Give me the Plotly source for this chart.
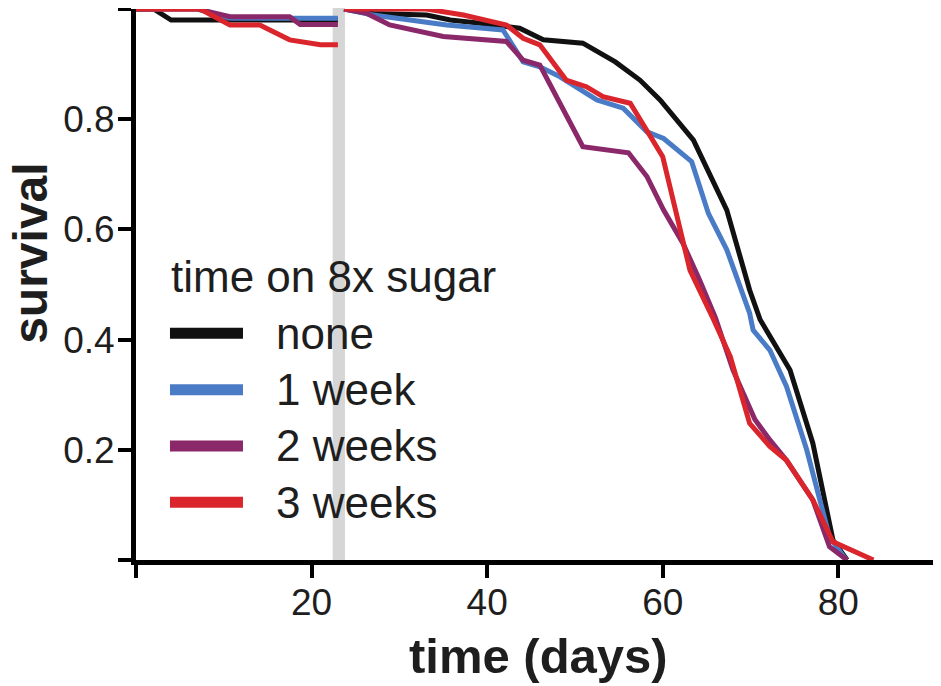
import plotly.graph_objects as go

# survival curves
# first 3 weeks (before the gap), then after the switch back
groups = ["none", "1 week", "2 weeks", "3 weeks"]
colors = ["#111111", "#4a7bc6", "#8a2869", "#d9252b"]

pre_days = {
    "none": [0, 2, 4, 23.0],
    "1 week": [0, 7, 10.7, 23.0],
    "2 weeks": [0, 7, 10.7, 17.5, 18.7, 23.0],
    "3 weeks": [0, 7.3, 10.7, 14.1, 17.5, 21, 23.0],
}
pre_surv = {
    "none": [1.0, 1.0, 0.98, 0.98],
    "1 week": [1.0, 1.0, 0.983, 0.983],
    "2 weeks": [1.0, 1.0, 0.986, 0.986, 0.972, 0.972],
    "3 weeks": [1.0, 1.0, 0.971, 0.971, 0.944, 0.935, 0.935],
}

post_days = {
    "none": [23.7, 27, 33.1, 35.8, 39.2, 43.7, 46.4, 50.9, 54.6, 57.4, 59.7,
             63.5, 67.3, 69.9, 71.1, 74.5, 77.1, 79.4, 81],
    "1 week": [23.7, 27, 35.4, 41.8, 44.1, 46, 48.3, 52.5, 55.5, 56.3, 58.2,
               60.1, 63.3, 65.2, 67.3, 69.9, 70.3, 72.2, 74.1, 76.4, 79, 80.9],
    "2 weeks": [23.7, 26.3, 28.9, 35, 42.2, 44.1, 46, 50.9, 56.1, 58.2, 60.1,
                62.3, 64.2, 66, 68, 70.5, 72.2, 74.1, 77.1, 79, 81],
    "3 weeks": [23.7, 33.1, 37.3, 42.2, 44.1, 46, 49, 51.3, 53.2, 55.9, 56.3,
                60, 61.2, 63.1, 65.8, 67.7, 69.9, 72.2, 74.1, 77.1, 79.4, 84],
}
post_surv = {
    "none": [1.0, 0.992, 0.989, 0.98, 0.974, 0.965, 0.944, 0.938, 0.904, 0.871,
             0.835, 0.762, 0.635, 0.49, 0.436, 0.345, 0.212, 0.036, 0.0],
    "1 week": [1.0, 0.989, 0.971, 0.962, 0.904, 0.895, 0.877, 0.835, 0.82, 0.808,
               0.777, 0.765, 0.723, 0.629, 0.563, 0.448, 0.417, 0.381, 0.315,
               0.2, 0.042, 0.0],
    "2 weeks": [1.0, 0.992, 0.971, 0.95, 0.941, 0.907, 0.898, 0.75, 0.739, 0.696,
                0.635, 0.575, 0.508, 0.44, 0.345, 0.255, 0.218, 0.181, 0.109,
                0.024, 0.0],
    "3 weeks": [1.0, 1.0, 0.989, 0.971, 0.947, 0.935, 0.871, 0.859, 0.841, 0.832,
                0.829, 0.732, 0.653, 0.526, 0.436, 0.369, 0.248, 0.206, 0.181,
                0.109, 0.033, 0.0],
}

# grey bar marking the gap
gap_start, gap_end = 22.4, 23.8

x_ticks = [0, 20, 40, 60, 80]
x_labels = ["", "20", "40", "60", "80"]
y_ticks = [0, 0.2, 0.4, 0.6, 0.8, 1.0]
y_labels = ["", "0.2", "0.4", "0.6", "0.8", ""]

FONT = "Liberation Sans, Arial, sans-serif"
TXT = "#1e1e1e"

fig = go.Figure()

for g, c in zip(groups, colors):
    for xs, ys in ((pre_days[g], pre_surv[g]), (post_days[g], post_surv[g])):
        fig.add_trace(go.Scatter(
            x=xs, y=ys, mode="lines", line=dict(color=c, width=5),
            cliponaxis=False, showlegend=False, hoverinfo="skip"))

fig.add_shape(type="rect", xref="x", yref="paper", x0=gap_start, x1=gap_end,
              y0=0, y1=1.012, fillcolor="#d6d6d6", line_width=0, layer="below")

# hand drawn legend (plotly's own legend symbols are too short)
fig.add_annotation(text="time on 8x sugar", xref="paper", yref="paper",
                   x=0.041, y=0.514, xanchor="left", yanchor="middle",
                   showarrow=False, font=dict(family=FONT, size=44, color=TXT))
for i, (g, c) in enumerate(zip(groups, colors)):
    ypos = 0.4114 - i * 0.1022
    fig.add_shape(type="line", xref="paper", yref="paper", x0=0.0422, x1=0.1329,
                  y0=ypos, y1=ypos, line=dict(color=c, width=11))
    fig.add_annotation(text=g, xref="paper", yref="paper", x=0.172, y=ypos,
                       xanchor="left", yanchor="middle", showarrow=False,
                       font=dict(family=FONT, size=44, color=TXT))

# axis titles
fig.add_annotation(text="<b>time (days)</b>", xref="paper", yref="paper",
                   x=0.5, y=-0.174, xanchor="center", yanchor="middle",
                   showarrow=False, font=dict(family=FONT, size=49, color=TXT))
fig.add_annotation(text="<b>survival</b>", xref="paper", yref="paper",
                   x=-0.132, y=0.557, xanchor="center", yanchor="middle",
                   textangle=-90, showarrow=False,
                   font=dict(family=FONT, size=48, color=TXT))

axis_style = dict(showgrid=False, zeroline=False, showline=True,
                  linecolor="black", linewidth=5, ticks="outside", ticklen=13,
                  tickwidth=4, tickcolor="black",
                  tickfont=dict(family=FONT, size=37, color=TXT))

fig.update_xaxes(range=[0, 91.7], tickvals=x_ticks, ticktext=x_labels,
                 ticklabelstandoff=-7, **axis_style)
fig.update_yaxes(range=[0, 1], tickvals=y_ticks, ticktext=y_labels,
                 ticklabelstandoff=-4, **axis_style)

# the page body adds an 8px margin, so the figure is 8px smaller
fig.update_layout(
    width=933, height=678,
    margin=dict(l=128, r=0, t=1, b=126),
    plot_bgcolor="white", paper_bgcolor="white",
    font=dict(family=FONT, color=TXT),
)

fig.write_html("out.html")
